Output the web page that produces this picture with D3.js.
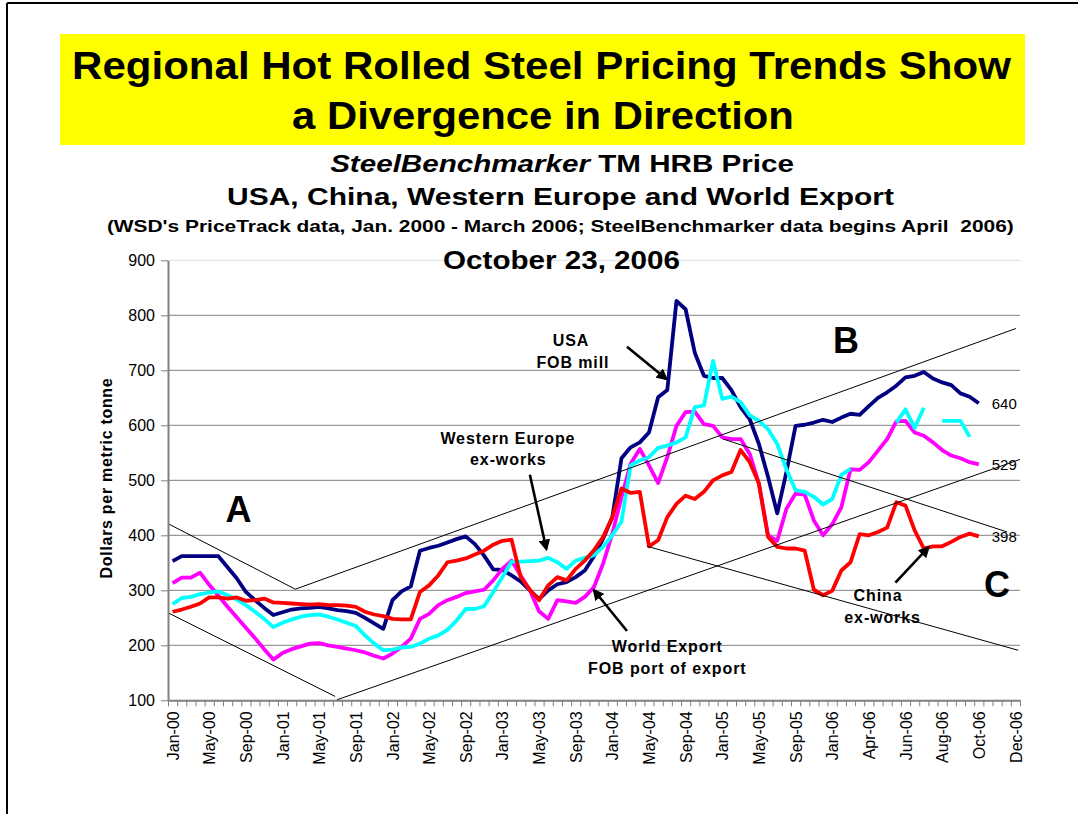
<!DOCTYPE html>
<html>
<head>
<meta charset="utf-8">
<script src="https://d3js.org/d3.v7.min.js"></script>
<style>
  body { margin: 0; background: #fff; }
  text { font-family: "Liberation Sans", Arial, sans-serif; }
</style>
</head>
<body>
<div id="chart"></div>
<script>
// categories: monthly WSD data Jan-00..Mar-06, then twice-monthly SteelBenchmarker points
var monthCats = d3.timeMonths(new Date(2000, 0, 1), new Date(2006, 3, 1)).map(d3.timeFormat('%b-%y'));
var sbCats = ['Apr-06', 'Apr-06', 'May-06', 'May-06', 'Jun-06', 'Jun-06', 'Jul-06', 'Jul-06',
    'Aug-06', 'Aug-06', 'Sep-06', 'Sep-06', 'Oct-06', 'Oct-06', 'Nov-06', 'Nov-06', 'Dec-06', 'Dec-06'];
var categories = monthCats.concat(sbCats);
var labelEvery = 4;
var yTicks = [100, 200, 300, 400, 500, 600, 700, 800, 900];

var usa = [
    353, 362, 362, 362, 362, 362, 342, 322, 297, 282,
    268, 255, 260, 265, 267, 268, 270, 267, 264, 262,
    259, 250, 240, 230, 282, 298, 307, 372, 377, 381,
    387, 393, 398, 384, 363, 338, 337, 327, 316, 300,
    284, 300, 311, 315, 324, 336, 362, 394, 433, 540,
    560, 569, 587, 651, 664, 826, 811, 732, 690, 686,
    686, 664, 633, 611, 566, 506, 440, 515, 599, 601,
    605, 610, 606, 614, 621, 619, 635, 650, 660, 672,
    687, 690, 697, 685, 678, 673, 658, 652, 640
];
var westernEurope = [
    275, 286, 288, 293, 296, 298, 291, 283, 273, 261,
    248, 233, 241, 247, 252, 255, 256, 252, 247, 241,
    235, 218, 203, 191, 192, 196, 197, 203, 212, 218,
    228, 245, 266, 266, 271, 297, 324, 352, 352, 353,
    354, 359, 351, 339, 354, 359, 364, 379, 400, 425,
    527, 536, 542, 559, 563, 569, 578, 633, 636, 717,
    648, 652, 642, 618, 608, 593, 566, 520, 482, 479,
    470, 456, 466, 510, 521, null, null, null, null, 605,
    629, 595, 632, null, 608, 608, 608, 579, null
];
var worldExport = [
    313, 323, 323, 332, 310, 290, 270, 251, 232, 213,
    193, 174, 186, 193, 198, 203, 204, 200, 197, 194,
    191, 187, 181, 176, 185, 197, 212, 248, 257, 273,
    282, 288, 295, 298, 301, 318, 339, 354, 327, 300,
    262, 248, 282, 280, 277, 288, 306, 349, 403, 469,
    530, 557, 527, 495, 542, 599, 624, 625, 602, 599,
    578, 575, 575, 548, 494, 400, 390, 448, 476, 474,
    427, 400, 420, 451, 520, 519, 533, 554, 575, 607,
    608, 587, 581, 569, 555, 545, 540, 533, 529
];
var china = [
    261, 265, 270, 276, 287, 287, 285, 287, 281, 282,
    285, 278, 277, 276, 275, 274, 275, 273, 273, 272,
    270, 261, 256, 253, 248, 247, 247, 297, 309, 327,
    351, 354, 358, 365, 372, 383, 390, 392, 324, 301,
    282, 309, 324, 318, 339, 354, 373, 397, 433, 485,
    477, 479, 380, 391, 433, 457, 472, 466, 479, 500,
    509, 515, 555, 533, 494, 397, 379, 376, 376, 372,
    301, 291, 299, 336, 351, 402, 400, 406, 414, 460,
    454, 409, 376, 380, 380, 388, 397, 403, 398
];

// drawing order: last on top
var seriesList = [
    { name: 'USA', values: usa, color: '#000080', endLabel: true },
    { name: 'World Export', values: worldExport, color: '#FF00FF', endLabel: true },
    { name: 'Western Europe', values: westernEurope, color: '#00FFFF', endLabel: false },
    { name: 'China', values: china, color: '#FF0000', endLabel: true }
];

// hand-drawn trend channels, [category index, price]
var trendLines = [
    [[-0.36, 420], [13.4, 302], [92.05, 776]],
    [[-0.36, 258], [17.75, 107]],
    [[17.96, 101], [92.5, 538]],
    [[51.8, 380], [92.3, 191]],
    [[60.1, 575], [91.1, 406]]
];
var arrows = [
    [[49.6, 743], [53.9, 684]],
    [[39.0, 510], [40.8, 375]],
    [[49.6, 226], [46.0, 300]],
    [[78.9, 314], [82.5, 378]]
];
var notes = [
    { t: 'USA', i: 43.5, v: 744 }, { t: 'FOB mill', i: 43.7, v: 705 },
    { t: 'Western Europe', i: 36.6, v: 566 }, { t: 'ex-works', i: 36.65, v: 528 },
    { t: 'World Export', i: 54.0, v: 188 }, { t: 'FOB port of export', i: 54.0, v: 147 },
    { t: 'China', i: 77.0, v: 281 }, { t: 'ex-works', i: 77.5, v: 240 }
];
var bigLetters = [
    { t: 'A', i: 7.2, v: 425 }, { t: 'B', i: 73.5, v: 732 }, { t: 'C', i: 90.0, v: 288 }
];

var width = 1078, height = 814;
var svg = d3.select('#chart').append('svg')
    .attr('width', width)
    .attr('height', height);

svg.append('rect').attr('width', width).attr('height', height).attr('fill', '#fff');
// slide frame
svg.append('line').attr('x1', 7).attr('x2', width).attr('y1', 3).attr('y2', 3)
    .attr('stroke', '#000').attr('stroke-width', 2);
svg.append('line').attr('x1', 7).attr('x2', 7).attr('y1', 3).attr('y2', height)
    .attr('stroke', '#000').attr('stroke-width', 2);

svg.append('defs').append('marker')
    .attr('id', 'arrow')
    .attr('viewBox', '0 0 10 10')
    .attr('refX', 8).attr('refY', 5)
    .attr('markerWidth', 4.5).attr('markerHeight', 4.5)
    .attr('orient', 'auto')
    .append('path').attr('d', 'M0,0 L10,5 L0,10 z').attr('fill', '#000');

// stretch a centred text horizontally to a given width (the slide is wider than its fonts)
function fitText(sel, cx, y, w) {
    var len = sel.node().getComputedTextLength();
    sel.attr('transform', `translate(${cx},${y}) scale(${w / len},1)`);
}

// title
svg.append('rect').attr('x', 60).attr('y', 34).attr('width', 965).attr('height', 111).attr('fill', '#FFFF00');
var t1 = svg.append('text').attr('text-anchor', 'middle').attr('font-size', 38).attr('font-weight', 'bold')
    .text('Regional Hot Rolled Steel Pricing Trends Show');
fitText(t1, 541.5, 79, 939);
var t2 = svg.append('text').attr('text-anchor', 'middle').attr('font-size', 38).attr('font-weight', 'bold')
    .text('a Divergence in Direction');
fitText(t2, 543, 129, 502);

var s1 = svg.append('text').attr('text-anchor', 'middle').attr('font-size', 24.5).attr('font-weight', 'bold');
s1.append('tspan').attr('font-style', 'italic').text('SteelBenchmarker');
s1.append('tspan').text(' TM HRB Price');
fitText(s1, 562, 172, 464);
var s2 = svg.append('text').attr('text-anchor', 'middle').attr('font-size', 24.5).attr('font-weight', 'bold')
    .text('USA, China, Western Europe and World Export');
fitText(s2, 560.5, 205, 667);
var s3 = svg.append('text').attr('text-anchor', 'middle').attr('font-size', 16.5).attr('font-weight', 'bold')
    .text("(WSD's PriceTrack data, Jan. 2000 - March 2006; SteelBenchmarker data begins April  2006)")
    .style('white-space', 'pre');
fitText(s3, 560.3, 232, 907);

// plot area
var plotLeft = 168, plotRight = 1020, plotTop = 260.3, plotBottom = 700.3;
var x = d3.scaleLinear().domain([-0.5, categories.length - 0.5]).range([plotLeft, plotRight]);
var y = d3.scaleLinear().domain([100, 900]).range([plotBottom, plotTop]);

svg.append('g').selectAll('line')
    .data(yTicks.slice(1))
    .enter().append('line')
    .attr('x1', plotLeft).attr('x2', plotRight)
    .attr('y1', (d) => y(d)).attr('y2', (d) => y(d))
    .attr('stroke', (d) => d === 900 ? '#dcdcdc' : '#808080')
    .attr('stroke-width', 1);

var yAxis = svg.append('g')
    .attr('transform', `translate(${plotLeft},0)`)
    .call(d3.axisLeft(y).tickValues(yTicks).tickSize(7).tickSizeOuter(0).tickPadding(6));
yAxis.select('.domain').attr('stroke', '#808080').attr('stroke-width', 2);
yAxis.selectAll('.tick line').attr('stroke', '#808080');
yAxis.selectAll('.tick text').attr('font-size', 16).attr('fill', '#000')
    .attr('font-family', '"Liberation Sans", Arial, sans-serif');

var xTicks = svg.append('g')
    .attr('transform', `translate(0,${plotBottom})`)
    .call(d3.axisBottom(x).tickValues(d3.range(-0.5, categories.length, 1))
        .tickSize(6).tickSizeOuter(0).tickFormat(''));
xTicks.select('.domain').attr('stroke', '#808080').attr('stroke-width', 2);
xTicks.selectAll('.tick line').attr('stroke', '#808080');

var labelIdx = d3.range(0, categories.length, labelEvery);
var xLabels = svg.append('g')
    .attr('transform', `translate(0,${plotBottom})`)
    .call(d3.axisBottom(x).tickValues(labelIdx).tickSize(0).tickFormat((i) => categories[i]));
xLabels.select('.domain').remove();
xLabels.selectAll('.tick text')
    .attr('transform', 'rotate(-90)')
    .attr('x', -11).attr('y', 0).attr('dy', '0.35em')
    .style('text-anchor', 'end')
    .attr('font-size', 16).attr('fill', '#000')
    .attr('font-family', '"Liberation Sans", Arial, sans-serif');

svg.append('text')
    .attr('transform', `translate(106,478) rotate(-90)`)
    .attr('text-anchor', 'middle').attr('dominant-baseline', 'central')
    .attr('font-size', 16).attr('font-weight', 'bold').attr('letter-spacing', 0.7)
    .text('Dollars per metric tonne');

var oct = svg.append('text').attr('text-anchor', 'middle').attr('font-size', 25).attr('font-weight', 'bold')
    .text('October 23, 2006');
fitText(oct, 561.5, 268.5, 237);

// price lines
var line = d3.line()
    .defined((d) => d != null)
    .x((d, i) => x(i))
    .y((d) => y(d));

svg.append('g').selectAll('path')
    .data(seriesList)
    .enter().append('path')
    .attr('d', (s) => line(s.values))
    .attr('fill', 'none')
    .attr('stroke', (s) => s.color)
    .attr('stroke-width', 3.8)
    .attr('stroke-linejoin', 'round');

// trend channels
var pline = d3.line().x((d) => x(d[0])).y((d) => y(d[1]));
svg.append('g').selectAll('path')
    .data(trendLines)
    .enter().append('path')
    .attr('d', pline)
    .attr('fill', 'none')
    .attr('stroke', '#000')
    .attr('stroke-width', 1);

svg.append('g').selectAll('path')
    .data(arrows)
    .enter().append('path')
    .attr('d', pline)
    .attr('stroke', '#000')
    .attr('stroke-width', 2.6)
    .attr('marker-end', 'url(#arrow)');

svg.append('g').selectAll('text')
    .data(notes)
    .enter().append('text')
    .attr('x', (d) => x(d.i)).attr('y', (d) => y(d.v))
    .attr('text-anchor', 'middle')
    .attr('font-size', 16).attr('font-weight', 'bold').attr('letter-spacing', 0.9)
    .text((d) => d.t);

svg.append('g').selectAll('text')
    .data(bigLetters)
    .enter().append('text')
    .attr('x', (d) => x(d.i)).attr('y', (d) => y(d.v))
    .attr('text-anchor', 'middle')
    .attr('font-size', 36).attr('font-weight', 'bold')
    .text((d) => d.t);

// end-of-series value labels
svg.append('g').selectAll('text')
    .data(seriesList.filter((s) => s.endLabel))
    .enter().append('text')
    .attr('x', (s) => x(s.values.length - 1) + 13)
    .attr('y', (s) => y(s.values[s.values.length - 1]))
    .attr('dy', '0.35em')
    .attr('font-size', 15).attr('fill', '#000')
    .text((s) => s.values[s.values.length - 1]);
</script>
</body>
</html>
